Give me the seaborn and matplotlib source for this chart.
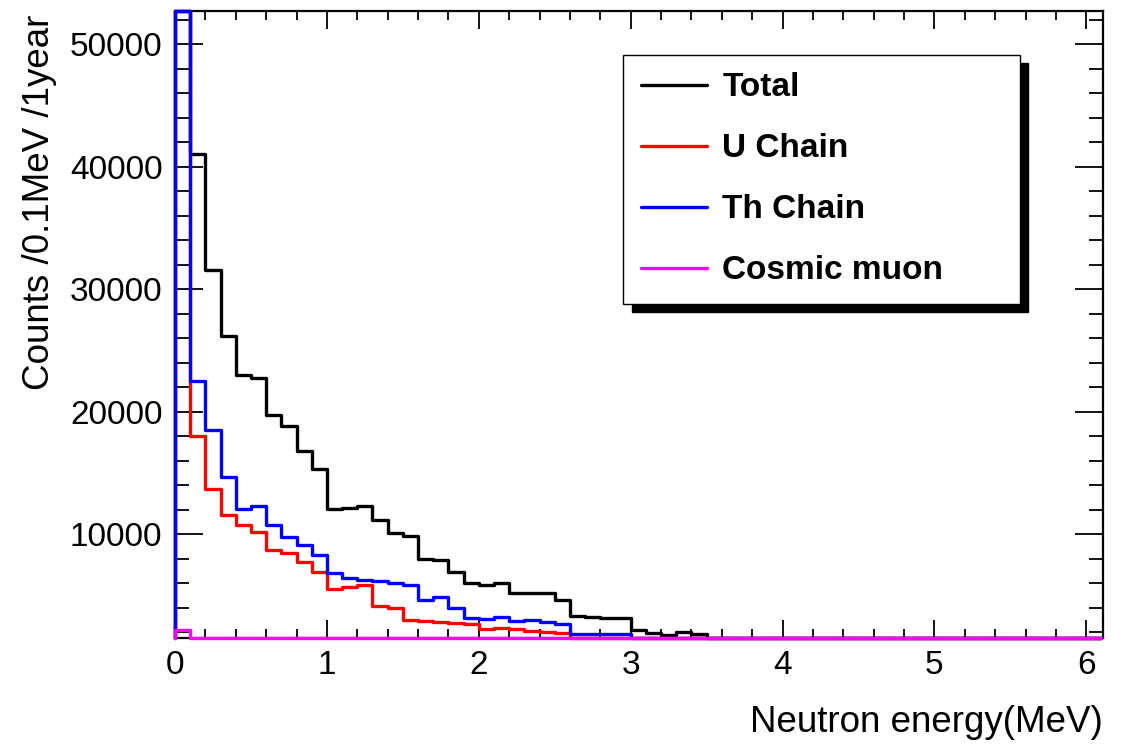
import numpy as np
import pandas as pd
import matplotlib
matplotlib.use("Agg")
import matplotlib.pyplot as plt
from matplotlib.ticker import MultipleLocator, FuncFormatter
from matplotlib.lines import Line2D
import seaborn as sns

# ---- data (counts per 0.1 MeV bin, 0 .. 6.1 MeV) ----
bin_edges = [round(0.1 * i, 2) for i in range(62)]

total_counts = [125000, 41030, 31540, 26220, 23040, 22770, 19750, 18830, 16790, 15370,
                12090, 12170, 12310, 11170, 10140, 9860, 7960, 7880, 6960, 6060,
                5870, 6010, 5250, 5250, 5190, 4620, 3340, 3290, 3210, 3150,
                2190, 1960, 1830, 2010, 1880, 1200, 1000, 800, 650, 500,
                400, 300, 250, 200, 150, 120, 100, 80, 60, 50,
                40, 30, 25, 20, 15, 10, 8, 6, 4, 2, 1]

u_counts = [58000, 18000, 13670, 11580, 10730, 10190, 8700, 8450, 7750, 6960,
            5570, 5730, 5870, 4160, 3970, 3020, 2940, 2850, 2750, 2660,
            2310, 2370, 2260, 2120, 2040, 1990, 1400, 1350, 1300, 1250,
            900, 800, 700, 700, 600, 500, 400, 300, 250, 200,
            150, 120, 100, 80, 60, 50, 40, 30, 25, 20,
            15, 10, 8, 6, 5, 4, 3, 2, 1, 1, 0]

th_counts = [65000, 22500, 18480, 14700, 12090, 12310, 10760, 9810, 9100, 8290,
             6820, 6470, 6280, 6170, 6060, 5870, 4650, 4890, 4020, 3210,
             3130, 3260, 2940, 2990, 2880, 2660, 1900, 1900, 1890, 1880,
             1000, 900, 800, 800, 700, 600, 500, 400, 300, 250,
             200, 150, 120, 100, 80, 60, 50, 40, 30, 25,
             20, 15, 10, 8, 6, 5, 4, 3, 2, 1, 0]

cosmic_counts = [2180, 400, 350, 300, 280, 250, 220, 200, 180, 160,
                 150, 140, 130, 120, 110, 100, 90, 80, 75, 70,
                 65, 60, 55, 50, 45, 40, 38, 36, 34, 32,
                 30, 28, 26, 24, 22, 20, 18, 16, 14, 12,
                 10, 9, 8, 7, 6, 5, 5, 4, 4, 3,
                 3, 3, 2, 2, 2, 1, 1, 1, 1, 1, 1]

series_names = ["Total", "U Chain", "Th Chain", "Cosmic muon"]
series_values = [total_counts, u_counts, th_counts, cosmic_counts]
series_colors = ["#000000", "#ff0000", "#0000ff", "#ff00ff"]

YMIN, YMAX = 1550, 52700
XMAX = 6.11
LW = 2.4

# ---- style ----
sns.set_style("ticks")
plt.rcParams["font.family"] = ["Liberation Sans", "DejaVu Sans"]
plt.rcParams.update({
    "axes.linewidth": 1.6,
    "axes.edgecolor": "black",
    "text.color": "black",
    "axes.labelcolor": "black",
    "xtick.color": "black",
    "ytick.color": "black",
})

fig = plt.figure(figsize=(11.29, 7.49), dpi=100)
ax = fig.add_axes([175 / 1129, 1 - 638 / 749, 928 / 1129, 627 / 749])

# ROOT-like histogram outline: rises from the frame minimum at the first edge,
# steps through each bin, and drops back at the last edge.
for name, vals, col in zip(series_names, series_values, series_colors):
    v = np.clip(np.asarray(vals, dtype=float), YMIN, YMAX)
    xs = np.concatenate([[bin_edges[0]], bin_edges, [bin_edges[-1]]])
    ys = np.concatenate([[YMIN], v, [v[-1]], [YMIN]])
    df = pd.DataFrame({"energy": xs, "counts": ys})
    sns.lineplot(data=df, x="energy", y="counts", sort=False, estimator=None,
                 drawstyle="steps-post", color=col, linewidth=LW, ax=ax,
                 clip_on=False, zorder=3)

ax.set_xlim(0, XMAX)
ax.set_ylim(YMIN, YMAX)

ax.xaxis.set_major_locator(MultipleLocator(1))
ax.xaxis.set_minor_locator(MultipleLocator(0.2))
ax.yaxis.set_major_locator(MultipleLocator(10000))
ax.yaxis.set_minor_locator(MultipleLocator(2000))
ax.xaxis.set_major_formatter(FuncFormatter(lambda v, p: f"{v:g}"))
ax.yaxis.set_major_formatter(FuncFormatter(lambda v, p: f"{v:.0f}"))

ax.tick_params(axis="both", which="both", direction="in", top=True, right=True,
               width=1.3, labelsize=24, pad=9)
ax.tick_params(axis="x", which="major", length=13)
ax.tick_params(axis="x", which="minor", length=6.5)
ax.tick_params(axis="y", which="major", length=20)
ax.tick_params(axis="y", which="minor", length=10)

ax.set_xlabel("Neutron energy(MeV)", fontsize=26.5, loc="right")
ax.xaxis.set_label_coords(1.0, -0.134)
ax.xaxis.label.set_va("center")
ax.set_ylabel("Counts /0.1MeV /1year", fontsize=26.5, loc="top")
ax.yaxis.set_label_coords(-0.1455, 0.994)
ax.yaxis.label.set_va("center")

handles = [Line2D([], [], color=c, lw=LW) for c in series_colors]
leg = ax.legend(handles, series_names, loc="upper left",
                bbox_to_anchor=(0.483, 0.5343, 0.4276, 0.3955), mode="expand",
                borderaxespad=0, fancybox=False, frameon=True,
                edgecolor="black", framealpha=1,
                prop={"family": "Liberation Sans", "weight": "bold", "size": 24},
                handlelength=2.0, handletextpad=0.45, labelspacing=0.9,
                borderpad=0.52,
                shadow={"ox": 6, "oy": -6, "color": "black", "alpha": 1})
leg.get_frame().set_linewidth(1.0)
leg.set_zorder(5)

fig.savefig("out.png", dpi=100)
